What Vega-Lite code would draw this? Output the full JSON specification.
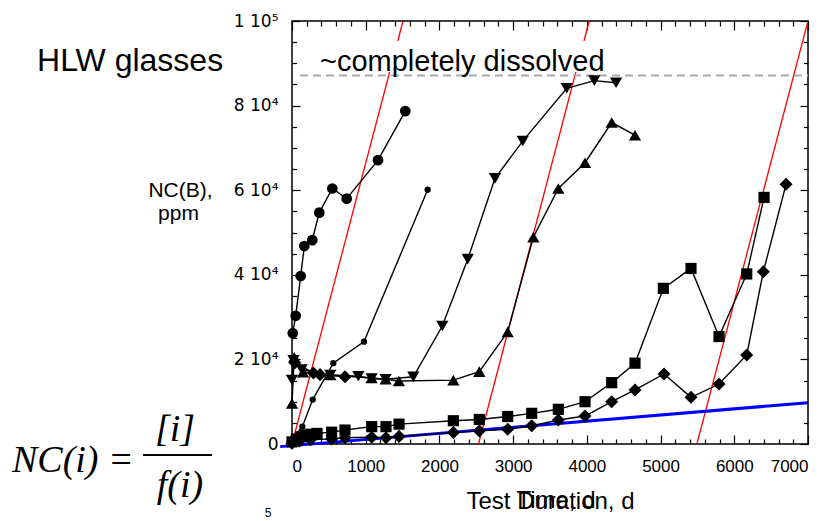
{
  "$schema": "https://vega.github.io/schema/vega-lite/v6.json",
  "width": 516,
  "height": 423,
  "autosize": "none",
  "padding": {"left": 292, "top": 21, "right": 23, "bottom": 77},
  "background": "white",
  "config": {
    "view": {"stroke": "black", "strokeWidth": 1.5},
    "font": "Liberation Sans",
    "axis": {"labelFont": "Liberation Sans", "labelColor": "black", "labelFontSize": 18, "tickColor": "black", "tickWidth": 1.2, "domain": false, "grid": false, "titleFont": "Liberation Sans", "titleColor": "black", "titleFontWeight": "normal"}
  },
  "datasets": {
    "red": [
      {"g": "a", "x": 0, "y": 0}, {"g": "a", "x": 1506, "y": 100000},
      {"g": "b", "x": 2530, "y": 0}, {"g": "b", "x": 4032, "y": 100000},
      {"g": "c", "x": 5493, "y": 0}, {"g": "c", "x": 7000, "y": 100000}
    ],
    "blue": [{"x": -160, "y": -620}, {"x": 7000, "y": 9760}],
    "box": [{"x": 325, "x2": 4270, "y": 87940, "y2": 95300}],
    "dash": [{"x": 108, "y": 87100}, {"x": 7000, "y": 87100}],
    "pts": [
      {"s": "BC", "x": 10, "y": 26200}, {"s": "BC", "x": 50, "y": 30300}, {"s": "BC", "x": 118, "y": 39700}, {"s": "BC", "x": 167, "y": 46800}, {"s": "BC", "x": 275, "y": 48200}, {"s": "BC", "x": 370, "y": 54700}, {"s": "BC", "x": 547, "y": 60400}, {"s": "BC", "x": 742, "y": 58000}, {"s": "BC", "x": 1167, "y": 67100}, {"s": "BC", "x": 1537, "y": 78700},
      {"s": "SC", "x": 20, "y": 1500}, {"s": "SC", "x": 140, "y": 4100}, {"s": "SC", "x": 281, "y": 10500}, {"s": "SC", "x": 560, "y": 19100}, {"s": "SC", "x": 977, "y": 24200}, {"s": "SC", "x": 1840, "y": 60100},
      {"s": "DT", "x": 0, "y": 15100}, {"s": "DT", "x": 20, "y": 19800}, {"s": "DT", "x": 130, "y": 17600}, {"s": "DT", "x": 520, "y": 16300}, {"s": "DT", "x": 900, "y": 16000}, {"s": "DT", "x": 1080, "y": 15500}, {"s": "DT", "x": 1270, "y": 15300}, {"s": "DT", "x": 1646, "y": 15900}, {"s": "DT", "x": 2039, "y": 27900}, {"s": "DT", "x": 2384, "y": 43700}, {"s": "DT", "x": 2754, "y": 62800}, {"s": "DT", "x": 3130, "y": 71600}, {"s": "DT", "x": 3727, "y": 84100}, {"s": "DT", "x": 4101, "y": 85900}, {"s": "DT", "x": 4396, "y": 85400},
      {"s": "UT", "x": 0, "y": 9600}, {"s": "UT", "x": 30, "y": 20500}, {"s": "UT", "x": 150, "y": 17000}, {"s": "UT", "x": 520, "y": 16300}, {"s": "UT", "x": 1080, "y": 15600}, {"s": "UT", "x": 1270, "y": 15300}, {"s": "UT", "x": 1450, "y": 14900}, {"s": "UT", "x": 2189, "y": 15100}, {"s": "UT", "x": 2541, "y": 17100}, {"s": "UT", "x": 2926, "y": 26500}, {"s": "UT", "x": 3274, "y": 48900}, {"s": "UT", "x": 3613, "y": 60400}, {"s": "UT", "x": 3975, "y": 66500}, {"s": "UT", "x": 4337, "y": 76000}, {"s": "UT", "x": 4653, "y": 73000},
      {"s": "D2", "x": 40, "y": 19200}, {"s": "D2", "x": 290, "y": 16800}, {"s": "D2", "x": 380, "y": 16400}, {"s": "D2", "x": 719, "y": 15900},
      {"s": "SQ", "x": 0, "y": 500}, {"s": "SQ", "x": 60, "y": 1200}, {"s": "SQ", "x": 120, "y": 1700}, {"s": "SQ", "x": 180, "y": 2100}, {"s": "SQ", "x": 250, "y": 2300}, {"s": "SQ", "x": 340, "y": 2500}, {"s": "SQ", "x": 538, "y": 2800}, {"s": "SQ", "x": 719, "y": 3300}, {"s": "SQ", "x": 1081, "y": 4100}, {"s": "SQ", "x": 1275, "y": 4100}, {"s": "SQ", "x": 1452, "y": 4700}, {"s": "SQ", "x": 2189, "y": 5500}, {"s": "SQ", "x": 2541, "y": 5800}, {"s": "SQ", "x": 2926, "y": 6500}, {"s": "SQ", "x": 3252, "y": 7250}, {"s": "SQ", "x": 3613, "y": 8200}, {"s": "SQ", "x": 3975, "y": 10000}, {"s": "SQ", "x": 4337, "y": 14500}, {"s": "SQ", "x": 4653, "y": 19100}, {"s": "SQ", "x": 5038, "y": 36800}, {"s": "SQ", "x": 5413, "y": 41500}, {"s": "SQ", "x": 5793, "y": 25400}, {"s": "SQ", "x": 6169, "y": 40200}, {"s": "SQ", "x": 6404, "y": 58300},
      {"s": "DM", "x": 0, "y": 200}, {"s": "DM", "x": 100, "y": 700}, {"s": "DM", "x": 250, "y": 1000}, {"s": "DM", "x": 538, "y": 1200}, {"s": "DM", "x": 719, "y": 1500}, {"s": "DM", "x": 1081, "y": 1600}, {"s": "DM", "x": 1275, "y": 1500}, {"s": "DM", "x": 1452, "y": 1800}, {"s": "DM", "x": 2189, "y": 2700}, {"s": "DM", "x": 2541, "y": 3100}, {"s": "DM", "x": 2926, "y": 3500}, {"s": "DM", "x": 3252, "y": 4300}, {"s": "DM", "x": 3613, "y": 5670}, {"s": "DM", "x": 3975, "y": 6620}, {"s": "DM", "x": 4337, "y": 10000}, {"s": "DM", "x": 4653, "y": 12770}, {"s": "DM", "x": 5047, "y": 16550}, {"s": "DM", "x": 5413, "y": 11040}, {"s": "DM", "x": 5793, "y": 14180}, {"s": "DM", "x": 6169, "y": 21040}, {"s": "DM", "x": 6394, "y": 40730}, {"s": "DM", "x": 6702, "y": 61390}
    ],
    "hlw": [{"t": "HLW glasses", "x": -3459, "y": 88250}],
    "bigtext": [{"t": "~completely dissolved", "x": 380, "y": 88250}],
    "ylab": [{"t": "NC(B),", "x": -1513, "y": 58390}, {"t": "ppm", "x": -1540, "y": 52960}],
    "time": [{"t": "Time, d", "x": 3581, "y": -15200}],
    "five": [{"t": "5", "x": -326, "y": -17300}],
    "fl": [{"t": "NC(i) =", "x": -3799, "y": -6550}],
    "fnum": [{"t": "[i]", "x": -1587, "y": 709}],
    "fden": [{"t": "f(i)", "x": -1519, "y": -12530}],
    "fbar": [{"x": -2021, "x2": -1085, "y": -2600}]
  },
  "layer": [
    {
      "data": {"name": "red"},
      "mark": {"type": "line", "color": "#ff0000", "strokeWidth": 1.3, "clip": true},
      "encoding": {
        "x": {"field": "x", "type": "quantitative", "scale": {"domain": [0, 7000], "nice": false},
          "axis": {"orient": "top", "values": [0,200,400,600,800,1000,1200,1400,1600,1800,2000,2200,2400,2600,2800,3000,3200,3400,3600,3800,4000,4200,4400,4600,4800,5000,5200,5400,5600,5800,6000,6200,6400,6600,6800,7000], "labels": false, "title": null,
            "tickSize": {"condition": {"test": "datum.value % 1000 === 0", "value": -9}, "value": -5}}},
        "y": {"field": "y", "type": "quantitative", "scale": {"domain": [0, 100000], "nice": false},
          "axis": {"orient": "right", "values": [0,5000,10000,15000,20000,25000,30000,35000,40000,45000,50000,55000,60000,65000,70000,75000,80000,85000,90000,95000,100000], "labels": false, "title": null,
            "tickSize": {"condition": {"test": "datum.value % 20000 === 0", "value": -8}, "value": -4.5}}},
        "detail": {"field": "g"}
      }
    },
    {
      "data": {"name": "blue"},
      "mark": {"type": "line", "color": "#0000ff", "strokeWidth": 3},
      "encoding": {
        "x": {"field": "x", "type": "quantitative", "axis": null},
        "y": {"field": "y", "type": "quantitative", "axis": null}
      }
    },
    {
      "data": {"name": "box"},
      "mark": {"type": "rect", "color": "white"},
      "encoding": {
        "x": {"field": "x", "type": "quantitative", "axis": null}, "x2": {"field": "x2"},
        "y": {"field": "y", "type": "quantitative", "axis": null}, "y2": {"field": "y2"}
      }
    },
    {
      "data": {"name": "dash"},
      "mark": {"type": "line", "color": "#aaaaaa", "strokeWidth": 2, "strokeDash": [8, 5]},
      "encoding": {
        "x": {"field": "x", "type": "quantitative", "axis": null},
        "y": {"field": "y", "type": "quantitative", "axis": null}
      }
    },
    {
      "data": {"name": "pts"},
      "mark": {"type": "line", "color": "black", "strokeWidth": 1.4},
      "encoding": {
        "x": {"field": "x", "type": "quantitative",
          "axis": {"orient": "bottom", "values": [0,200,400,600,800,1000,1200,1400,1600,1800,2000,2200,2400,2600,2800,3000,3200,3400,3600,3800,4000,4200,4400,4600,4800,5000,5200,5400,5600,5800,6000,6200,6400,6600,6800,7000],
            "labelExpr": "datum.value % 1000 === 0 ? format(datum.value, 'd') : ''",
            "tickSize": {"condition": {"test": "datum.value % 1000 === 0", "value": -9}, "value": -5},
            "labelFontSize": 17, "labelPadding": 23, "title": "Test Duration, d", "titleFontSize": 24, "titlePadding": 15}},
        "y": {"field": "y", "type": "quantitative",
          "axis": {"orient": "left", "values": [0,5000,10000,15000,20000,25000,30000,35000,40000,45000,50000,55000,60000,65000,70000,75000,80000,85000,90000,95000,100000],
            "labelExpr": "datum.value === 0 ? '0' : datum.value === 100000 ? '1 10⁵' : datum.value % 20000 === 0 ? (datum.value / 10000) + ' 10⁴' : ''",
            "labelFont": "DejaVu Sans",
            "labelFontSize": 17,
            "tickSize": {"condition": {"test": "datum.value % 20000 === 0", "value": -8}, "value": -4.5},
            "labelPadding": 22, "title": null}},
        "detail": {"field": "s"}
      }
    },
    {
      "data": {"name": "pts"},
      "mark": {"type": "point", "filled": true, "color": "black", "opacity": 1},
      "encoding": {
        "x": {"field": "x", "type": "quantitative", "axis": null},
        "y": {"field": "y", "type": "quantitative", "axis": null},
        "shape": {"field": "s", "type": "nominal", "legend": null, "scale": {"domain": ["BC", "SC", "DT", "UT", "D2", "SQ", "DM"], "range": ["circle", "circle", "triangle-down", "triangle-up", "diamond", "square", "diamond"]}},
        "size": {"field": "s", "type": "nominal", "legend": null, "scale": {"type": "ordinal", "domain": ["BC", "SC", "DT", "UT", "D2", "SQ", "DM"], "range": [115, 40, 150, 150, 170, 125, 170]}}
      }
    },
    {
      "data": {"name": "hlw"},
      "mark": {"type": "text", "fontSize": 32, "align": "left", "baseline": "alphabetic", "color": "black", "font": "Liberation Sans"},
      "encoding": {"x": {"field": "x", "type": "quantitative", "axis": null}, "y": {"field": "y", "type": "quantitative", "axis": null}, "text": {"field": "t"}}
    },
    {
      "data": {"name": "bigtext"},
      "mark": {"type": "text", "fontSize": 29, "align": "left", "baseline": "alphabetic", "color": "black", "font": "Liberation Sans"},
      "encoding": {"x": {"field": "x", "type": "quantitative", "axis": null}, "y": {"field": "y", "type": "quantitative", "axis": null}, "text": {"field": "t"}}
    },
    {
      "data": {"name": "ylab"},
      "mark": {"type": "text", "fontSize": 21, "align": "center", "baseline": "alphabetic", "color": "black", "font": "Liberation Sans"},
      "encoding": {"x": {"field": "x", "type": "quantitative", "axis": null}, "y": {"field": "y", "type": "quantitative", "axis": null}, "text": {"field": "t"}}
    },
    {
      "data": {"name": "time"},
      "mark": {"type": "text", "fontSize": 24, "align": "center", "baseline": "alphabetic", "color": "black", "font": "Liberation Sans"},
      "encoding": {"x": {"field": "x", "type": "quantitative", "axis": null}, "y": {"field": "y", "type": "quantitative", "axis": null}, "text": {"field": "t"}}
    },
    {
      "data": {"name": "five"},
      "mark": {"type": "text", "fontSize": 12, "align": "center", "baseline": "alphabetic", "color": "black", "font": "Liberation Sans"},
      "encoding": {"x": {"field": "x", "type": "quantitative", "axis": null}, "y": {"field": "y", "type": "quantitative", "axis": null}, "text": {"field": "t"}}
    },
    {
      "data": {"name": "fl"},
      "mark": {"type": "text", "fontSize": 38, "align": "left", "baseline": "alphabetic", "color": "black", "font": "Liberation Serif", "fontStyle": "italic"},
      "encoding": {"x": {"field": "x", "type": "quantitative", "axis": null}, "y": {"field": "y", "type": "quantitative", "axis": null}, "text": {"field": "t"}}
    },
    {
      "data": {"name": "fnum"},
      "mark": {"type": "text", "fontSize": 38, "align": "center", "baseline": "alphabetic", "color": "black", "font": "Liberation Serif", "fontStyle": "italic"},
      "encoding": {"x": {"field": "x", "type": "quantitative", "axis": null}, "y": {"field": "y", "type": "quantitative", "axis": null}, "text": {"field": "t"}}
    },
    {
      "data": {"name": "fden"},
      "mark": {"type": "text", "fontSize": 38, "align": "center", "baseline": "alphabetic", "color": "black", "font": "Liberation Serif", "fontStyle": "italic"},
      "encoding": {"x": {"field": "x", "type": "quantitative", "axis": null}, "y": {"field": "y", "type": "quantitative", "axis": null}, "text": {"field": "t"}}
    },
    {
      "data": {"name": "fbar"},
      "mark": {"type": "rule", "color": "black", "strokeWidth": 2},
      "encoding": {"x": {"field": "x", "type": "quantitative", "axis": null}, "x2": {"field": "x2"}, "y": {"field": "y", "type": "quantitative", "axis": null}}
    }
  ],
  "resolve": {"axis": {"x": "independent", "y": "independent"}}
}
